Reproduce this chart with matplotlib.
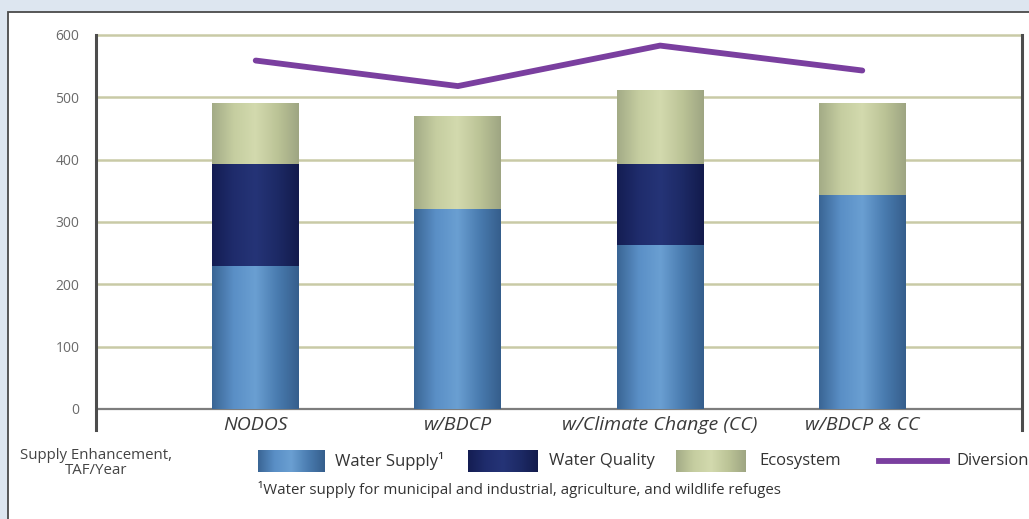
import numpy as np
import matplotlib
matplotlib.use("Agg")
import matplotlib.pyplot as plt
from matplotlib.colors import LinearSegmentedColormap
from matplotlib.patches import Rectangle
from matplotlib.lines import Line2D

# ---------------- data ----------------
categories = ["NODOS", "w/BDCP", "w/Climate Change (CC)", "w/BDCP & CC"]
water_supply = [230, 320, 263, 343]
water_quality = [163, 0, 130, 0]
ecosystem = [98, 150, 119, 148]
diversion = [559, 518, 583, 543]
yticks = [0, 100, 200, 300, 400, 500, 600]
series_names = ["Water Supply\u00b9", "Water Quality", "Ecosystem", "Diversion"]
footnote = "\u00b9Water supply for municipal and industrial, agriculture, and wildlife refuges"
ylabel_text = "Supply Enhancement,\nTAF/Year"

# ---------------- style ----------------
W, H = 1029, 519
FONT = ["Open Sans", "DejaVu Sans"]
plt.rcParams["font.family"] = FONT

ws_cols = ["#3a6594", "#5a8fc6", "#6a9fd2", "#4a7cb0", "#355e8c"]
wq_cols = ["#141d52", "#1f2c6c", "#253477", "#1d2a66", "#131b4c"]
eco_cols = ["#a3ab86", "#c5cda0", "#d3daae", "#bcc497", "#9ea582"]
div_col = "#7a3f9f"

fig = plt.figure(figsize=(W / 100, H / 100), dpi=100)
fig.patch.set_facecolor("#dde6f0")

def fx(px):
    return px / W

def fy(py):
    return 1 - py / H

# white panel with dark frame
panel = Rectangle((fx(8), -0.2), 1.2, fy(12) + 0.2, transform=fig.transFigure,
                  facecolor="white", edgecolor="#4a4a4a", linewidth=1.3, zorder=-10)
fig.patches.append(panel)

ax_left, ax_right = 96, 1022
ax_top, ax_bot = 35, 430
ax = fig.add_axes([fx(ax_left), fy(ax_bot), fx(ax_right - ax_left), (ax_bot - ax_top) / H])
ax.set_facecolor("none")
ax.set_xlim(-0.79, 3.79)
ax.set_ylim(-34, 600)

x = np.arange(len(categories))
bw = 0.43

# gridlines
for yv in yticks:
    if yv == 0:
        ax.axhline(yv, color="#7d7d7d", lw=1.6, zorder=1)
    else:
        ax.axhline(yv, color="#c9caa6", lw=1.8, zorder=1, clip_on=False)

def gradient_bars(bottoms, heights, cols):
    cmap = LinearSegmentedColormap.from_list("g", cols)
    bars = ax.bar(x, heights, bw, bottom=bottoms, color=cols[1], linewidth=0, zorder=2)
    grad = np.linspace(0, 1, 256).reshape(1, -1)
    for p in bars:
        if p.get_height() <= 0:
            continue
        x0, y0 = p.get_x(), p.get_y()
        im = ax.imshow(grad, cmap=cmap, aspect="auto", interpolation="bicubic",
                       extent=(x0, x0 + p.get_width(), y0, y0 + p.get_height()), zorder=3)
        im.set_clip_path(p)
    return bars

b0 = np.zeros(len(categories))
gradient_bars(b0, water_supply, ws_cols)
b1 = b0 + np.array(water_supply)
gradient_bars(b1, water_quality, wq_cols)
b2 = b1 + np.array(water_quality)
gradient_bars(b2, ecosystem, eco_cols)

ax.set_xlim(-0.79, 3.79)
ax.set_ylim(-34, 600)

ax.plot(x, diversion, color=div_col, lw=4.2, solid_capstyle="round",
        solid_joinstyle="round", zorder=5)

# spines
for s in ["top", "bottom"]:
    ax.spines[s].set_visible(False)
ax.spines["left"].set_color("#4d4d4d")
ax.spines["left"].set_linewidth(2.2)
ax.spines["right"].set_color("#4d4d4d")
ax.spines["right"].set_linewidth(2.2)
ax.spines["left"].set_bounds(-34, 600)
ax.spines["right"].set_bounds(-34, 600)

ax.set_yticks(yticks)
ax.set_yticklabels([str(v) for v in yticks], fontsize=10, color="#6a6a6a")
ax.tick_params(axis="y", length=0, pad=12)
ax.set_xticks([])

for xi, lab in zip(x, categories):
    ax.text(xi, -26, lab, ha="center", va="center", fontsize=14, style="italic",
            color="#3a3a3a")

# y-axis caption
fig.text(fx(96), fy(463), ylabel_text, ha="center", va="center", fontsize=10.8,
         color="#444444", linespacing=0.95)

# legend (manual)
grad = np.linspace(0, 1, 256).reshape(1, -1)
def legend_patch(x0, x1, cols):
    lax = fig.add_axes([fx(x0), fy(472), fx(x1 - x0), 22 / H])
    lax.imshow(grad, cmap=LinearSegmentedColormap.from_list("l", cols), aspect="auto",
               interpolation="bicubic")
    lax.set_axis_off()

LFS = 12
legend_patch(258, 325, ws_cols)
fig.text(fx(335), fy(461), series_names[0], ha="left", va="center", fontsize=LFS, color="#333333")
legend_patch(468, 538, wq_cols)
fig.text(fx(549), fy(461), series_names[1], ha="left", va="center", fontsize=LFS, color="#333333")
legend_patch(676, 746, eco_cols)
fig.text(fx(759), fy(461), series_names[2], ha="left", va="center", fontsize=LFS, color="#333333")
fig.add_artist(Line2D([fx(879), fx(947)], [fy(461), fy(461)], transform=fig.transFigure,
                      color=div_col, lw=4.2))
fig.text(fx(956), fy(461), series_names[3], ha="left", va="center", fontsize=LFS, color="#333333")

fig.text(fx(258), fy(489), footnote, ha="left", va="center", fontsize=10.8, color="#333333")

fig.savefig("out.png", dpi=100, facecolor=fig.get_facecolor())
